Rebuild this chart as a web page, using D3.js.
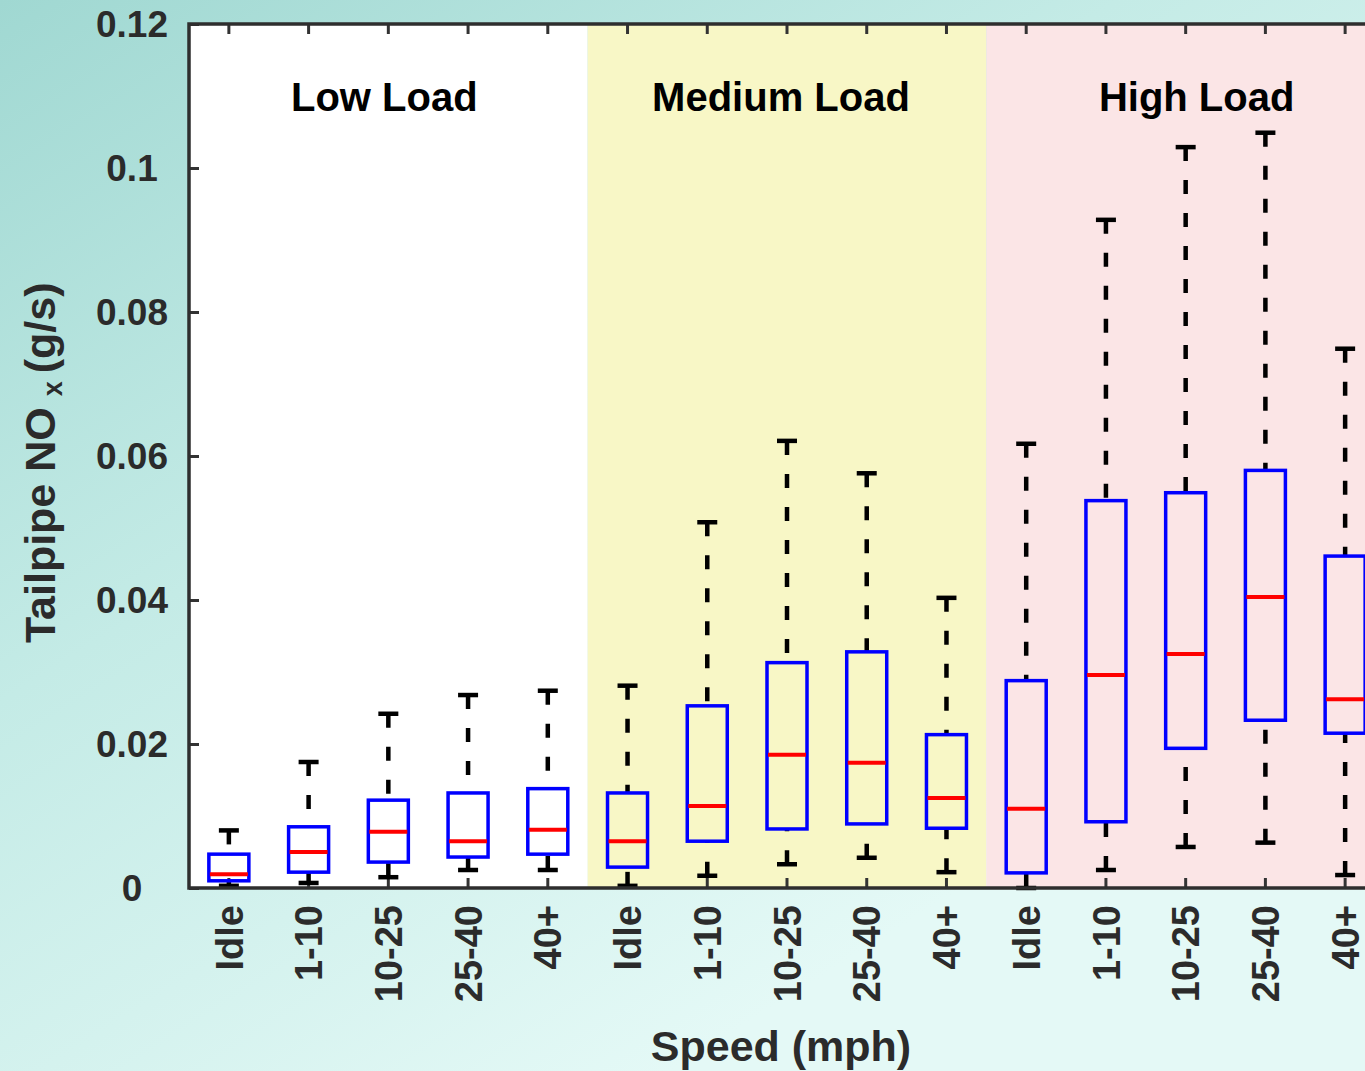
<!DOCTYPE html>
<html>
<head>
<meta charset="utf-8">
<script src="https://cdn.jsdelivr.net/npm/d3@7"></script>
<style>
  html, body { margin: 0; padding: 0; overflow: hidden; }
  svg { display: block; font-family: "Liberation Sans", Arial, sans-serif; font-weight: bold; }
</style>
</head>
<body>
<div id="chart"></div>
<script>
// speed bins, repeated per load group
const speeds = ['Idle', '1-10', '10-25', '25-40', '40+'];
const loads = ['Low Load', 'Medium Load', 'High Load'];
const loadFills = ['#ffffff', '#f8f7c6', '#fbe5e6'];

// box stats per bin, low -> medium -> high (g/s)
const whiskerLow  = [0.0003, 0.0007, 0.0015, 0.0025, 0.0025,  0.0003, 0.0017, 0.0033, 0.0042, 0.0022,  0.0000, 0.0025, 0.0057, 0.0063, 0.0018];
const q1          = [0.0010, 0.0022, 0.0036, 0.0043, 0.0047,  0.0029, 0.0065, 0.0082, 0.0089, 0.0083,  0.0021, 0.0092, 0.0194, 0.0233, 0.0215];
const median      = [0.0019, 0.0050, 0.0078, 0.0065, 0.0081,  0.0065, 0.0114, 0.0185, 0.0174, 0.0125,  0.0110, 0.0296, 0.0325, 0.0404, 0.0262];
const q3          = [0.0047, 0.0085, 0.0122, 0.0132, 0.0138,  0.0132, 0.0253, 0.0313, 0.0328, 0.0213,  0.0288, 0.0538, 0.0549, 0.0580, 0.0461];
const whiskerHigh = [0.0080, 0.0175, 0.0242, 0.0268, 0.0274,  0.0281, 0.0508, 0.0621, 0.0576, 0.0403,  0.0617, 0.0928, 0.1029, 0.1049, 0.0749];

const yTicks = [0, 0.02, 0.04, 0.06, 0.08, 0.1, 0.12];
const yTickLabels = ['0', '0.02', '0.04', '0.06', '0.08', '0.1', '0.12'];

const W = 1365, H = 1071;
const plotLeft = 189, plotTop = 24, plotBottom = 888;
const plotRight = 1385; // plot runs off the right edge, as in the original

const bins = d3.range(loads.length * speeds.length);

const svg = d3.select('#chart').append('svg')
  .attr('width', W)
  .attr('height', H);

// background
const defs = svg.append('defs');
const grad = defs.append('linearGradient')
  .attr('id', 'bg')
  .attr('x1', 0).attr('y1', 0).attr('x2', 0.8).attr('y2', 1);
grad.append('stop').attr('offset', 0).attr('stop-color', '#a0d8d2');
grad.append('stop').attr('offset', 0.4).attr('stop-color', '#c4ebe6');
grad.append('stop').attr('offset', 0.85).attr('stop-color', '#e4f9f6');
svg.append('rect').attr('width', W).attr('height', H).attr('fill', 'url(#bg)');

const x = d3.scaleBand()
  .domain(bins)
  .range([plotLeft, plotRight])
  .padding(0);
const y = d3.scaleLinear()
  .domain([0, 0.12])
  .range([plotBottom, plotTop]);

const cx = i => x(i) + x.bandwidth() / 2;

// load group shading
const titleNudge = [-4, -6, 11];
loads.forEach((name, g) => {
  const x0 = x(g * speeds.length);
  const x1 = x(g * speeds.length + speeds.length - 1) + x.bandwidth();
  svg.append('rect')
    .attr('x', x0).attr('y', plotTop)
    .attr('width', x1 - x0).attr('height', plotBottom - plotTop)
    .attr('fill', loadFills[g]);
  svg.append('text')
    .attr('x', cx(g * speeds.length + 2) + titleNudge[g])
    .attr('y', 111)
    .attr('text-anchor', 'middle')
    .attr('font-size', '40px')
    .attr('fill', '#000')
    .text(name);
});

// ticks
const tickColor = '#333';
const xTop = d3.axisTop(x).tickSize(-10).tickFormat('');
const xBot = d3.axisBottom(x).tickSize(-10).tickFormat('');
[[xTop, plotTop], [xBot, plotBottom]].forEach(([ax, ty]) => {
  const g = svg.append('g').attr('transform', `translate(0,${ty})`).call(ax);
  g.select('.domain').remove();
  g.selectAll('line').attr('stroke', tickColor).attr('stroke-width', 3);
});

const yAx = svg.append('g')
  .attr('transform', `translate(${plotLeft},0)`)
  .call(d3.axisLeft(y).tickValues(yTicks).tickSize(-10).tickFormat(''));
yAx.select('.domain').remove();
yAx.selectAll('line').attr('stroke', tickColor).attr('stroke-width', 3);

svg.selectAll('.ylab')
  .data(yTicks)
  .join('text')
  .attr('class', 'ylab')
  .attr('x', 132)
  .attr('y', d => y(d))
  .attr('dy', '0.36em')
  .attr('text-anchor', 'middle')
  .attr('font-size', '37px')
  .attr('fill', '#2b2b2b')
  .text((d, i) => yTickLabels[i]);

// x tick labels
svg.selectAll('.xlab')
  .data(bins)
  .join('text')
  .attr('class', 'xlab')
  .attr('transform', i => `translate(${cx(i)},905) rotate(-90)`)
  .attr('dy', '0.36em')
  .attr('text-anchor', 'end')
  .attr('font-size', '38px')
  .attr('fill', '#2b2b2b')
  .text(i => speeds[i % speeds.length]);

// boxes
const boxW = 40, capW = 20;
const dash = '14,19';
const boxes = svg.append('g');
bins.forEach(i => {
  const c = cx(i);
  const g = boxes.append('g');
  // whiskers drawn from the cap toward the box so the dash starts at the cap
  g.append('line')
    .attr('x1', c).attr('x2', c)
    .attr('y1', y(whiskerHigh[i])).attr('y2', y(q3[i]))
    .attr('stroke', '#000').attr('stroke-width', 4.5)
    .attr('stroke-dasharray', dash);
  g.append('line')
    .attr('x1', c).attr('x2', c)
    .attr('y1', y(whiskerLow[i])).attr('y2', y(q1[i]))
    .attr('stroke', '#000').attr('stroke-width', 4.5)
    .attr('stroke-dasharray', dash);
  [whiskerHigh[i], whiskerLow[i]].forEach(v => {
    g.append('line')
      .attr('x1', c - capW / 2).attr('x2', c + capW / 2)
      .attr('y1', y(v)).attr('y2', y(v))
      .attr('stroke', '#000').attr('stroke-width', 4.5);
  });
  g.append('rect')
    .attr('x', c - boxW / 2)
    .attr('y', y(q3[i]))
    .attr('width', boxW)
    .attr('height', y(q1[i]) - y(q3[i]))
    .attr('fill', 'none')
    .attr('stroke', '#0000ff')
    .attr('stroke-width', 3.5);
  g.append('line')
    .attr('x1', c - boxW / 2 + 1).attr('x2', c + boxW / 2 - 1)
    .attr('y1', y(median[i])).attr('y2', y(median[i]))
    .attr('stroke', '#ff0000').attr('stroke-width', 4);
});

// frame (left, top, bottom)
svg.append('path')
  .attr('d', `M${plotRight},${plotTop}H${plotLeft}V${plotBottom}H${plotRight}`)
  .attr('fill', 'none')
  .attr('stroke', '#2e2e2e')
  .attr('stroke-width', 3.5);

// axis titles
svg.append('text')
  .attr('x', 781)
  .attr('y', 1061)
  .attr('text-anchor', 'middle')
  .attr('font-size', '43px')
  .attr('fill', '#2b2b2b')
  .text('Speed (mph)');

const yt = svg.append('text')
  .attr('transform', 'translate(55,643) rotate(-90)')
  .attr('text-anchor', 'start')
  .attr('font-size', '43px')
  .attr('fill', '#2b2b2b');
yt.append('tspan').text('Tailpipe NO');
yt.append('tspan').attr('dx', 11).attr('dy', 7).attr('font-size', '27px').text('x');
yt.append('tspan').attr('dx', 8).attr('dy', -7).text('(g/s)');
</script>
</body>
</html>
